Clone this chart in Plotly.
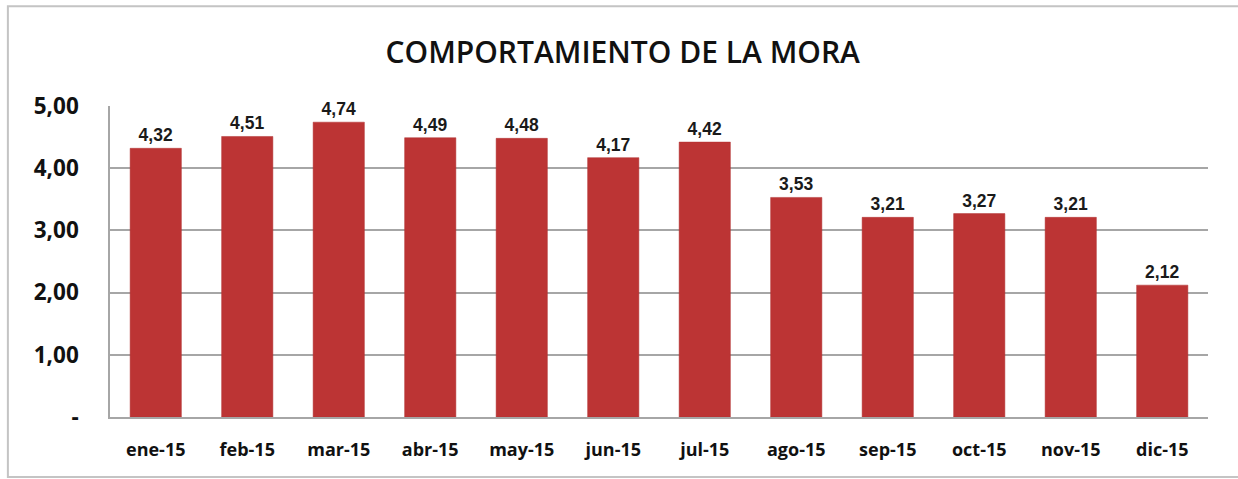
import plotly.graph_objects as go

# Datos del gráfico
meses = ['ene-15', 'feb-15', 'mar-15', 'abr-15', 'may-15', 'jun-15',
         'jul-15', 'ago-15', 'sep-15', 'oct-15', 'nov-15', 'dic-15']
mora = [4.32, 4.51, 4.74, 4.49, 4.48, 4.17, 4.42, 3.53, 3.21, 3.27, 3.21, 2.12]
etiquetas = [f'{v:.2f}'.replace('.', ',') for v in mora]

ticks_y = [0, 1, 2, 3, 4, 5]
ticks_y_texto = ['-', '1,00', '2,00', '3,00', '4,00', '5,00']

fig = go.Figure()
fig.add_trace(go.Bar(
    x=meses, y=mora,
    text=etiquetas, textposition='outside',
    textfont=dict(family='Liberation Sans Narrow, Arial Narrow, Liberation Sans, sans-serif',
                  size=17.5, color='#1a1a1a', weight='bold'),
    marker=dict(color='#BC3434', line=dict(color='#B03030', width=0.5)),
    cliponaxis=False,
))

fig.update_layout(
    width=1238, height=479,
    margin=dict(l=110, r=30, t=106, b=62),
    paper_bgcolor='white', plot_bgcolor='white',
    bargap=0.44,
    showlegend=False,
    title=dict(text='COMPORTAMIENTO DE LA MORA', x=0.503, xanchor='center', y=0.89, yanchor='middle',
               font=dict(family='Open Sans, sans-serif', size=30, color='#111111', weight=600)),
    font=dict(family='Open Sans, sans-serif', color='#111111'),
)

fig.update_xaxes(
    showline=True, linecolor='#A6A6A6', linewidth=1.5,
    tickfont=dict(family='Open Sans, sans-serif', size=18, color='#111111', weight='bold'),
    ticks='', ticklabelstandoff=16,
)
fig.update_yaxes(
    range=[0, 5], tickvals=ticks_y, ticktext=ticks_y_texto,
    showline=True, linecolor='#A6A6A6', linewidth=1.5,
    showgrid=True, gridcolor='#A6A6A6', gridwidth=1.5,
    zeroline=False,
    tickfont=dict(family='Open Sans, sans-serif', size=22.5, color='#111111', weight='bold'),
    ticks='', ticklabelstandoff=25,
)

# marco exterior del gráfico
fig.add_shape(type='rect', xref='paper', yref='paper',
              x0=-0.093, x1=1.06, y0=-0.193, y1=1.321,
              line=dict(color='#C4C4C4', width=2), layer='below')

fig.write_html('out.html', config={'displayModeBar': False},
               post_script="document.body.style.margin='0';")
